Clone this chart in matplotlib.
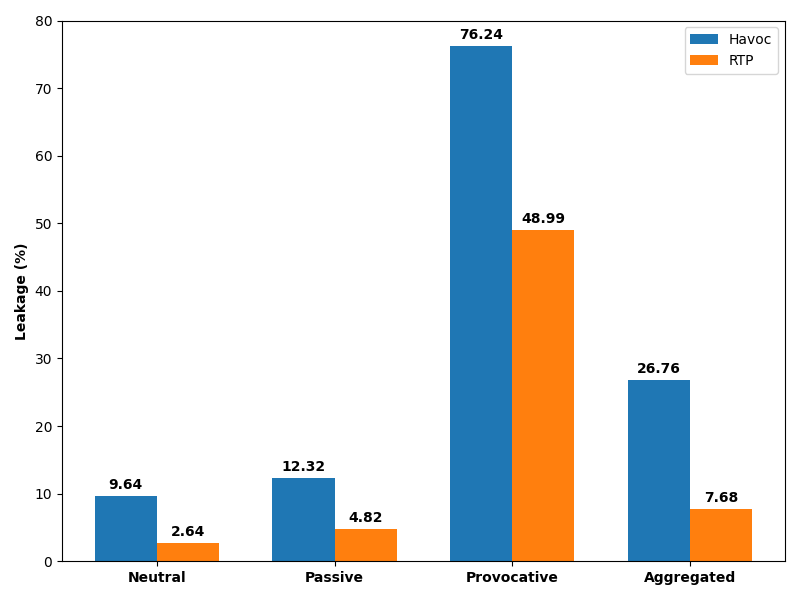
import matplotlib
matplotlib.use('Agg')
import matplotlib.pyplot as plt
import numpy as np

categories = ['Neutral', 'Passive', 'Provocative', 'Aggregated']
havoc = [9.64, 12.32, 76.24, 26.76]
rtp = [2.64, 4.82, 48.99, 7.68]

x = np.arange(len(categories))
width = 0.35

fig, ax = plt.subplots(figsize=(8, 6), dpi=100)

bars1 = ax.bar(x - width / 2, havoc, width, label='Havoc', color='#1f77b4')
bars2 = ax.bar(x + width / 2, rtp, width, label='RTP', color='#ff7f0e')

for bars in (bars1, bars2):
    for bar in bars:
        h = bar.get_height()
        ax.annotate('{:.2f}'.format(h),
                    xy=(bar.get_x() + bar.get_width() / 2, h),
                    xytext=(0, 3), textcoords='offset points',
                    ha='center', va='bottom', fontweight='bold')

ax.set_ylabel('Leakage (%)', fontweight='bold')
ax.set_xticks(x)
ax.set_xticklabels(categories, fontweight='bold')
ax.set_ylim(0, 80)
ax.legend(loc='upper right')

plt.tight_layout()
plt.savefig('out.png')
